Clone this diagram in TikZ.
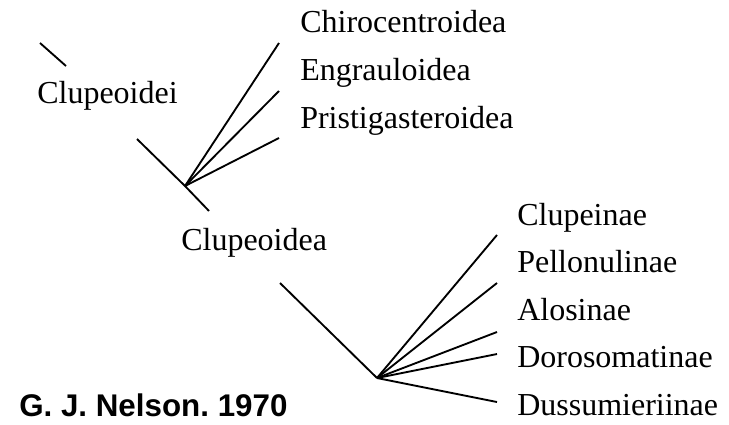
\documentclass[tikz,border=0pt]{standalone}
\usepackage{fontspec}
\setmainfont{Liberation Serif}
\setsansfont{Liberation Sans}
\frenchspacing
\tikzset{
  taxon/.style={anchor=base west,inner sep=0pt,font=\fontsize{24}{28}\selectfont},
  branch/.style={line width=1.4pt}
}
\begin{document}
\begin{tikzpicture}[x=0.75pt,y=0.75pt,yscale=-1,xscale=1]
        \useasboundingbox (0,0) rectangle (729,425);
        % upper group
        \coordinate (stubA) at (40,43);
        \coordinate (stubB) at (66,66);
        \coordinate (hubA) at (185,186);
        \coordinate (stemA) at (137,139);
        \coordinate (stemB) at (209,211);
        \coordinate (chiro) at (279,43);
        \coordinate (engra) at (279,91);
        \coordinate (prist) at (279,138);
        \draw [branch] (stubA) -- (stubB) ;
        \draw [branch] (stemA) -- (hubA) -- (stemB) ;
        \draw [branch] (hubA) -- (chiro) ;
        \draw [branch] (hubA) -- (engra) ;
        \draw [branch] (hubA) -- (prist) ;
        % lower group
        \coordinate (hubB) at (377,378);
        \coordinate (stemC) at (280,283);
        \coordinate (clupe) at (497,235);
        \coordinate (pello) at (497,283);
        \coordinate (alosi) at (497,332);
        \coordinate (doros) at (497,354);
        \coordinate (dussu) at (497,402);
        \draw [branch] (stemC) -- (hubB) ;
        \draw [branch] (hubB) -- (clupe) ;
        \draw [branch] (hubB) -- (pello) ;
        \draw [branch] (hubB) -- (alosi) ;
        \draw [branch] (hubB) -- (doros) ;
        \draw [branch] (hubB) -- (dussu) ;
        % labels
        \node [taxon] (lClupeoidei) at (37,103) {Clupeoidei};
        \node [taxon] (lChiro) at (300,32) {Chirocentroidea};
        \node [taxon] (lEngra) at (300,80) {Engrauloidea};
        \node [taxon] (lPrist) at (300,128) {Pristigasteroidea};
        \node [taxon] (lClupeoidea) at (181,250) {Clupeoidea};
        \node [taxon] (lClupe) at (517,225) {Clupeinae};
        \node [taxon] (lPello) at (517,272) {Pellonulinae};
        \node [taxon] (lAlosi) at (517,320) {Alosinae};
        \node [taxon] (lDoros) at (517,367) {Dorosomatinae};
        \node [taxon] (lDussu) at (517,415) {Dussumieriinae};
        \node [anchor=base west,inner sep=0pt,font=\sffamily\bfseries\fontsize{23.5}{27}\selectfont] (author) at (19,416) {G. J. Nelson. 1970};
    \end{tikzpicture}
\end{document}
